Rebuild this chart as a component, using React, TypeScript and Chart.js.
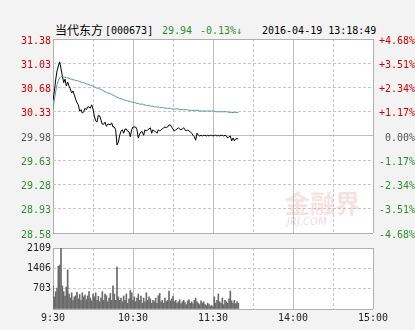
import React, { useEffect, useRef } from "react";
import { Chart, registerables } from "chart.js";
Chart.register(...registerables);

const PREV_CLOSE = 29.98;

const PRICE = [
  30.49, 30.62, 30.79, 30.92, 30.99, 31.05, 30.95, 30.85, 30.75, 30.8,
  30.7, 30.76, 30.7, 30.66, 30.6, 30.63, 30.57, 30.51, 30.46, 30.43,
  30.34, 30.36, 30.31, 30.33, 30.38, 30.36, 30.4, 30.4, 30.38, 30.43,
  30.37, 30.27, 30.2, 30.18, 30.28, 30.27, 30.21, 30.15, 30.15, 30.18,
  30.12, 30.15, 30.15, 30.14, 30.17, 30.11, 30.11, 30.07, 29.85, 29.89,
  29.99, 30.05, 30.07, 30.02, 30.08, 30.08, 30.05, 30.04, 29.97, 30.07,
  30.11, 30.11, 30.11, 30.07, 29.95, 30.01, 30.04, 30.04, 29.99, 30.07,
  30.05, 30.07, 30.08, 30.1, 30.02, 30.07, 30.05, 30.04, 30.02, 30.07,
  30.05, 30.07, 30.08, 30.1, 30.11, 30.1, 30.11, 30.14, 30.14, 30.11,
  30.08, 30.05, 30.07, 30.08, 30.1, 30.08, 30.07, 30.08, 30.1, 30.07,
  30.05, 30.07, 30.05, 30.04, 30.02, 29.99, 29.97, 29.92, 30.02, 29.99,
  29.98, 29.99, 29.98, 29.99, 29.99, 29.98, 29.99, 29.98, 29.99, 29.99,
  29.98, 29.99, 29.99, 29.98, 29.99, 29.98, 29.99, 29.99, 29.98, 29.99,
  29.98, 29.95, 29.97, 29.98, 29.91, 29.95, 29.91, 29.94, 29.94, 29.94,
];

const AVG = [
  30.36, 30.5, 30.62, 30.72, 30.78, 30.82, 30.84, 30.84, 30.83, 30.83,
  30.82, 30.82, 30.81, 30.8, 30.8, 30.79, 30.79, 30.78, 30.78, 30.77,
  30.77, 30.76, 30.75, 30.75, 30.74, 30.73, 30.73, 30.72, 30.71, 30.71,
  30.7, 30.69, 30.68, 30.67, 30.67, 30.66, 30.65, 30.64, 30.63, 30.62,
  30.61, 30.6, 30.6, 30.59, 30.58, 30.57, 30.56, 30.55, 30.54, 30.53,
  30.52, 30.52, 30.51, 30.5, 30.5, 30.49, 30.49, 30.48, 30.48, 30.47,
  30.47, 30.46, 30.46, 30.45, 30.45, 30.44, 30.44, 30.44, 30.43, 30.43,
  30.42, 30.42, 30.42, 30.41, 30.41, 30.41, 30.4, 30.4, 30.4, 30.4,
  30.39, 30.39, 30.39, 30.39, 30.38, 30.38, 30.38, 30.38, 30.38, 30.37,
  30.37, 30.37, 30.37, 30.37, 30.37, 30.36, 30.36, 30.36, 30.36, 30.36,
  30.36, 30.36, 30.35, 30.35, 30.35, 30.35, 30.35, 30.35, 30.35, 30.35,
  30.34, 30.34, 30.34, 30.34, 30.34, 30.34, 30.34, 30.34, 30.34, 30.34,
  30.34, 30.34, 30.33, 30.33, 30.33, 30.33, 30.33, 30.33, 30.33, 30.33,
  30.33, 30.33, 30.32, 30.32, 30.32, 30.32, 30.32, 30.32, 30.32, 30.32,
];

const VOLUME = [
  800, 420, 600, 720, 1480, 1520, 2100, 800, 600, 450,
  760, 1350, 520, 380, 560, 300, 420, 460, 580, 350,
  500, 300, 560, 420, 480, 320, 450, 600, 380, 280,
  520, 420, 560, 300, 440, 250, 380, 600, 300, 520,
  460, 250, 380, 540, 300, 800, 520, 300, 1460, 420,
  300, 380, 250, 450, 300, 520, 200, 350, 640, 560,
  300, 420, 250, 380, 520, 300, 450, 200, 380, 250,
  560, 300, 420, 350, 200, 300, 250, 380, 200, 460,
  540, 250, 300, 200, 380, 250, 300, 620, 280, 350,
  450, 250, 300, 200, 250, 320, 180, 250, 300, 220,
  150, 280, 320, 200, 250, 180, 300, 380, 250, 200,
  150, 280, 200, 250, 150, 120, 200, 150, 100, 120,
  80, 420, 200, 300, 520, 250, 200, 380, 150, 300,
  250, 200, 350, 620, 280, 200, 300, 180, 250, 200,
];

const MINUTE = PRICE.map((_, i) => i);

const PRICE_TICKS = [28.58, 28.93, 29.28, 29.63, 29.98, 30.33, 30.68, 31.03, 31.38];
const PCT_TICKS = [-4.68, -3.51, -2.34, -1.17, 0, 1.17, 2.34, 3.51, 4.68];
const VOL_TICKS = [0, 703, 1406, 2109];
const TIME_TICKS = [0, 60, 120, 180, 240];
const TIME_LABELS = ["9:30", "10:30", "11:30", "14:00", "15:00"];
const GRID_MINUTES = [0, 30, 60, 90, 120, 150, 180, 210, 240];
const SOLID_MINUTES = [0, 60, 120, 180, 240];

const RED = "#d40000";
const GREEN = "#2f8f2f";
const GRAY = "#555555";
const MONO = "'DejaVu Sans Mono', monospace";
const GRID_COLOR = "#c6c6c6";
const SOLID_COLOR = "#bdbdbd";
const BORDER_COLOR = "#b0b0b0";
const DASH = [3, 2];

const near = (a: number, b: number) => Math.abs(a - b) < 1e-6;

function tickColor(v: number, ref: number) {
  if (v > ref + 1e-6) return RED;
  if (v < ref - 1e-6) return GREEN;
  return GRAY;
}

// horizontal grid styling, driven by the tick values
const hGrid = (ticks: number[], solid: number[]) => {
  const isEdge = (v: number) => near(v, ticks[0]) || near(v, ticks[ticks.length - 1]);
  const isSolid = (v: number) => solid.some((s) => near(s, v));
  return {
    color: (c: any) => {
      const v = c.tick ? c.tick.value : NaN;
      return isEdge(v) ? BORDER_COLOR : isSolid(v) ? SOLID_COLOR : GRID_COLOR;
    },
    dash: (c: any) => {
      const v = c.tick ? c.tick.value : NaN;
      return isEdge(v) || isSolid(v) ? [] : DASH;
    },
  };
};

const vColor = (c: any) => {
  const v = c.tick ? c.tick.value : NaN;
  if (v === GRID_MINUTES[0] || v === GRID_MINUTES[GRID_MINUTES.length - 1]) return BORDER_COLOR;
  return SOLID_MINUTES.indexOf(v) >= 0 ? SOLID_COLOR : GRID_COLOR;
};
const vDash = (c: any) => {
  const v = c.tick ? c.tick.value : NaN;
  return SOLID_MINUTES.indexOf(v) >= 0 ? [] : DASH;
};

export default function App() {
  const mainRef = useRef<HTMLCanvasElement>(null);
  const volRef = useRef<HTMLCanvasElement>(null);

  useEffect(() => {
    const bgPlugin = {
      id: "plotBg",
      beforeDraw(chart: any) {
        const ctx = chart.ctx;
        const a = chart.chartArea;
        ctx.save();
        ctx.fillStyle = "#ffffff";
        ctx.fillRect(a.left, a.top, a.right - a.left, a.bottom - a.top);
        ctx.restore();
      },
    };

    const watermark = {
      id: "watermark",
      beforeDatasetsDraw(chart: any) {
        const ctx = chart.ctx;
        const a = chart.chartArea;
        ctx.save();
        ctx.fillStyle = "rgba(225,150,150,0.28)";
        ctx.font = "bold 25px 'Noto Sans CJK SC'";
        ctx.textBaseline = "middle";
        ctx.textAlign = "left";
        ctx.fillText("金融界", a.right - 88, a.bottom - 30);
        ctx.font = "italic 10px 'DejaVu Sans'";
        ctx.fillStyle = "rgba(200,150,150,0.35)";
        ctx.fillText("JRJ.COM", a.right - 86, a.bottom - 11);
        ctx.restore();
      },
    };

    const priceGrid = hGrid(PRICE_TICKS, [PREV_CLOSE]);
    const volGrid = hGrid(VOL_TICKS, []);

    const main = new Chart(mainRef.current!, {
      type: "line",
      data: {
        datasets: [
          {
            data: MINUTE.map((m, i) => ({ x: m, y: AVG[i] })),
            borderColor: "#4f9a9a",
            borderWidth: 1,
            pointRadius: 0,
            yAxisID: "y",
          },
          {
            data: MINUTE.map((m, i) => ({ x: m, y: PRICE[i] })),
            borderColor: "#000000",
            borderWidth: 1,
            pointRadius: 0,
            yAxisID: "y",
          },
        ],
      },
      options: {
        animation: false,
        responsive: false,
        layout: { padding: { top: 9, bottom: 9, left: 0, right: 0 } },
        plugins: { legend: { display: false }, tooltip: { enabled: false } },
        scales: {
          x: {
            type: "linear",
            min: 0,
            max: 240,
            offset: false,
            grid: { display: true, drawTicks: false, color: vColor, lineWidth: 1 },
            border: { display: false, dash: vDash },
            ticks: { display: false },
            afterBuildTicks: (s: any) => {
              s.ticks = GRID_MINUTES.map((v) => ({ value: v }));
            },
            afterFit: (s: any) => {
              s.height = 0;
            },
          },
          y: {
            position: "left",
            min: 28.58,
            max: 31.38,
            grid: { display: true, drawTicks: false, color: priceGrid.color, lineWidth: 1 },
            border: { display: false, dash: priceGrid.dash },
            afterBuildTicks: (s: any) => {
              s.ticks = PRICE_TICKS.map((v) => ({ value: v }));
            },
            afterFit: (s: any) => {
              s.width = 53;
            },
            ticks: {
              padding: 2,
              labelOffset: 2,
              font: { family: MONO, size: 10 },
              color: (c: any) => tickColor(c.tick.value, PREV_CLOSE),
              callback: (v: any) => Number(v).toFixed(2),
            },
          },
          y2: {
            position: "right",
            min: -4.68,
            max: 4.68,
            grid: { display: false, drawTicks: false },
            border: { display: false },
            afterBuildTicks: (s: any) => {
              s.ticks = PCT_TICKS.map((v) => ({ value: v }));
            },
            afterFit: (s: any) => {
              s.width = 42;
            },
            ticks: {
              padding: 0,
              labelOffset: 2,
              crossAlign: "far",
              font: { family: MONO, size: 10 },
              color: (c: any) => tickColor(c.tick.value, 0),
              callback: (v: any) => (Number(v) > 0 ? "+" : "") + Number(v).toFixed(2) + "%",
            },
          },
        },
      } as any,
      plugins: [bgPlugin, watermark],
    });

    const vol = new Chart(volRef.current!, {
      type: "bar",
      data: {
        datasets: [
          {
            data: MINUTE.map((m, i) => ({ x: m, y: VOLUME[i] })),
            backgroundColor: "#6a6a6a",
            barThickness: 1,
          },
        ],
      },
      options: {
        animation: false,
        responsive: false,
        layout: { padding: { top: 8, bottom: 0, left: 0, right: 42 } },
        plugins: { legend: { display: false }, tooltip: { enabled: false } },
        scales: {
          x: {
            type: "linear",
            min: 0,
            max: 240,
            offset: false,
            grid: { display: true, drawTicks: false, offset: false, color: vColor, lineWidth: 1 },
            border: { display: false, dash: vDash },
            afterBuildTicks: (s: any) => {
              s.ticks = GRID_MINUTES.map((v) => ({ value: v }));
            },
            afterFit: (s: any) => {
              s.height = 21;
            },
            ticks: {
              padding: 3,
              maxRotation: 0,
              autoSkip: false,
              font: { family: MONO, size: 10 },
              color: "#222222",
              callback: (v: any) => {
                const k = TIME_TICKS.indexOf(Number(v));
                return k >= 0 ? TIME_LABELS[k] : "";
              },
            },
          },
          y: {
            position: "left",
            min: 0,
            max: 2109,
            grid: { display: true, drawTicks: false, color: volGrid.color, lineWidth: 1 },
            border: { display: false, dash: volGrid.dash },
            afterBuildTicks: (s: any) => {
              s.ticks = VOL_TICKS.map((v) => ({ value: v }));
            },
            afterFit: (s: any) => {
              s.width = 53;
            },
            ticks: {
              padding: 2,
              font: { family: MONO, size: 10 },
              color: "#222222",
              callback: (v: any) => (Number(v) === 0 ? "" : String(v)),
            },
          },
        },
      } as any,
      plugins: [bgPlugin],
    });

    return () => {
      main.destroy();
      vol.destroy();
    };
  }, []);

  const titleBase: React.CSSProperties = {
    position: "absolute",
    top: 25,
    lineHeight: "12px",
    fontFamily: MONO,
    fontSize: 10,
    whiteSpace: "pre",
  };

  return (
    <div
      style={{
        position: "fixed",
        left: 0,
        top: 0,
        width: 415,
        height: 330,
        background: "#f3f3f3",
        overflow: "hidden",
      }}
    >
      <span style={{ ...titleBase, left: 55, top: 24, fontFamily: "'Noto Sans CJK SC'", fontSize: 12, color: "#000" }}>
        当代东方
      </span>
      <span style={{ ...titleBase, left: 105, color: "#000" }}>[000673]</span>
      <span style={{ ...titleBase, left: 162, color: GREEN }}>29.94</span>
      <span style={{ ...titleBase, left: 200, color: GREEN }}>-0.13%↓</span>
      <span style={{ ...titleBase, left: 262, color: "#000" }}>2016-04-19 13:18:49</span>
      <canvas
        ref={mainRef}
        width={415}
        height={212}
        style={{ position: "absolute", left: 0, top: 30, width: 415, height: 212 }}
      />
      <canvas
        ref={volRef}
        width={415}
        height={90}
        style={{ position: "absolute", left: 0, top: 240, width: 415, height: 90 }}
      />
    </div>
  );
}
